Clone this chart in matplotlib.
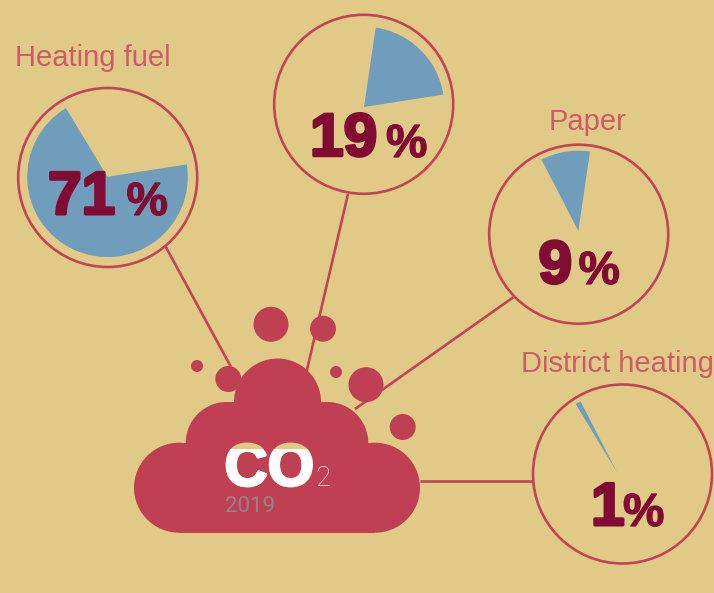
"""CO2 2019 by source: one shared pie cut across four callout circles, above a cloud."""
import matplotlib
matplotlib.use("Agg")
import matplotlib.pyplot as plt
import matplotlib.patheffects as pe
from matplotlib.patches import Circle, Rectangle, Wedge

W, H = 714, 593

# ── data ──────────────────────────────────────────────────────────────────────
labels = ["Heating fuel", "", "Paper", "District heating"]
values = ["71", "19", "9", "1"]
# sweep of each slice as drawn in the picture (% of full circle)
slice_shares = [68.8, 20.2, 9.9, 1.1]
PIE_START = 8.9  # where the 19% slice begins, degrees

# ── palette ───────────────────────────────────────────────────────────────────
BG = "#E1CA88"
RED = "#BF4052"
RING = "#C24556"
LABEL = "#CC5C68"
BLUE = "#6F9DBB"
DARK = "#800C34"
GREY = "#8C878C"

# ── layout, in image pixels (y measured from the top) ─────────────────────────
ring_xy = [(107.7, 177.5), (363.7, 104.3), (578.7, 234.2), (622.5, 474)]
apex_xy = [(107.5, 176.8), (364, 107), (578.3, 231), (617.3, 472.7)]
RING_R, PIE_R = 89.5, 80.3
label_xy = [(15, 66), None, (549, 129.5), (521, 371.5)]
num_xy = [(48, 214), (310, 155.7), (538.5, 283), (591, 525)]
pct_xy = [(126.5, 215), (386, 157), (578.5, 284), (623, 526)]
stems = [((165.7, 246.7), (231, 367)),
         ((348, 194), (306.7, 371)),
         ((513.3, 297.3), (355, 409)),
         ((420, 480.5), (533, 480.5))]
bubbles = [(271, 324.3, 17.5), (323, 328.7, 13), (197, 366, 6), (228.3, 379, 13),
           (336, 372, 6), (366, 384.7, 17.5), (402.7, 427, 13)]


def Y(y):
    return H - y


fig = plt.figure(figsize=(W / 100, H / 100), dpi=100, facecolor=BG)
ax = fig.add_axes([0, 0, 1, 1])
ax.set_xlim(0, W)
ax.set_ylim(0, H)
ax.set_aspect("equal")
ax.axis("off")

# ── stems ─────────────────────────────────────────────────────────────────────
for (x0, y0), (x1, y1) in stems:
    ax.plot([x0, x1], [Y(y0), Y(y1)], color=RING, lw=1.9, solid_capstyle="butt", zorder=1)

# ── cloud ─────────────────────────────────────────────────────────────────────
for x, y, r in [(179, 487.7, 45), (375, 487.7, 45), (226.7, 443, 41), (327.3, 443, 41),
                (277.5, 402, 43.5)]:
    ax.add_patch(Circle((x, Y(y)), r, fc=RED, ec="none", zorder=2))
ax.add_patch(Rectangle((179, Y(532.7)), 196, 90, fc=RED, ec="none", zorder=2))
ax.add_patch(Rectangle((226.7, Y(443)), 100.6, 41, fc=RED, ec="none", zorder=2))
ax.add_patch(Rectangle((185.7, Y(460)), 182.6, 17, fc=RED, ec="none", zorder=2))
for x, y, r in bubbles:
    ax.add_patch(Circle((x, Y(y)), r, fc=RED, ec="none", zorder=3))

# ── pies + rings ──────────────────────────────────────────────────────────────
# slices run counter-clockwise in this order, 19 -> 9 -> 1 -> 71
order = [1, 2, 3, 0]
start = PIE_START
for i in order:
    sweep = slice_shares[i] * 3.6
    ax_x, ax_y = apex_xy[i]
    ax.add_patch(Wedge((ax_x, Y(ax_y)), PIE_R, start, start + sweep, fc=BLUE, ec="none", zorder=4))
    start += sweep

for i, (x, y) in enumerate(ring_xy):
    ax.add_patch(Circle((x, Y(y)), RING_R, fc="none", ec=RING, lw=1.9, zorder=5))

    if label_xy[i]:
        lx, ly = label_xy[i]
        ax.text(lx, Y(ly), labels[i], fontsize=21, family="Liberation Sans",
                color=LABEL, va="baseline", ha="left", zorder=6)

    nx, ny = num_xy[i]
    ax.text(nx, Y(ny), values[i], fontsize=43.5, family="Liberation Sans", fontweight="bold",
            color=DARK, va="baseline", ha="left", zorder=6,
            path_effects=[pe.withStroke(linewidth=2.2, foreground=DARK)])
    px, py = pct_xy[i]
    ax.text(px, Y(py), "%", fontsize=33.5, family="Liberation Sans", fontweight="bold",
            color=DARK, va="baseline", ha="left", zorder=6,
            path_effects=[pe.withStroke(linewidth=0.9, foreground=DARK)])

# ── CO2 block ─────────────────────────────────────────────────────────────────
co_kw = dict(fontsize=43, family="Liberation Sans", fontweight="bold",
             va="baseline", ha="left", zorder=7)
ax.text(224.5, Y(485.5), "CO", color=BG,
        path_effects=[pe.withStroke(linewidth=1.8, foreground=BG)], **co_kw)
co = ax.text(224.5, Y(485.5), "CO", color="white",
             path_effects=[pe.withStroke(linewidth=1.8, foreground="white")], **co_kw)
co.set_zorder(8)
co.set_clip_on(True)
co.set_clip_path(Rectangle((200, Y(530)), 140, 530 - 449, transform=ax.transData))
ax.text(315.5, Y(486.5), "2", fontsize=20, family="Roboto", fontweight="light",
        color="#F3DEDC", va="baseline", ha="left", zorder=8)
ax.text(225.5, Y(512), "2019", fontsize=16, family="Roboto",
        color=GREY, va="baseline", ha="left", zorder=8)

fig.savefig("out.png", dpi=100, facecolor=BG)
plt.close(fig)
